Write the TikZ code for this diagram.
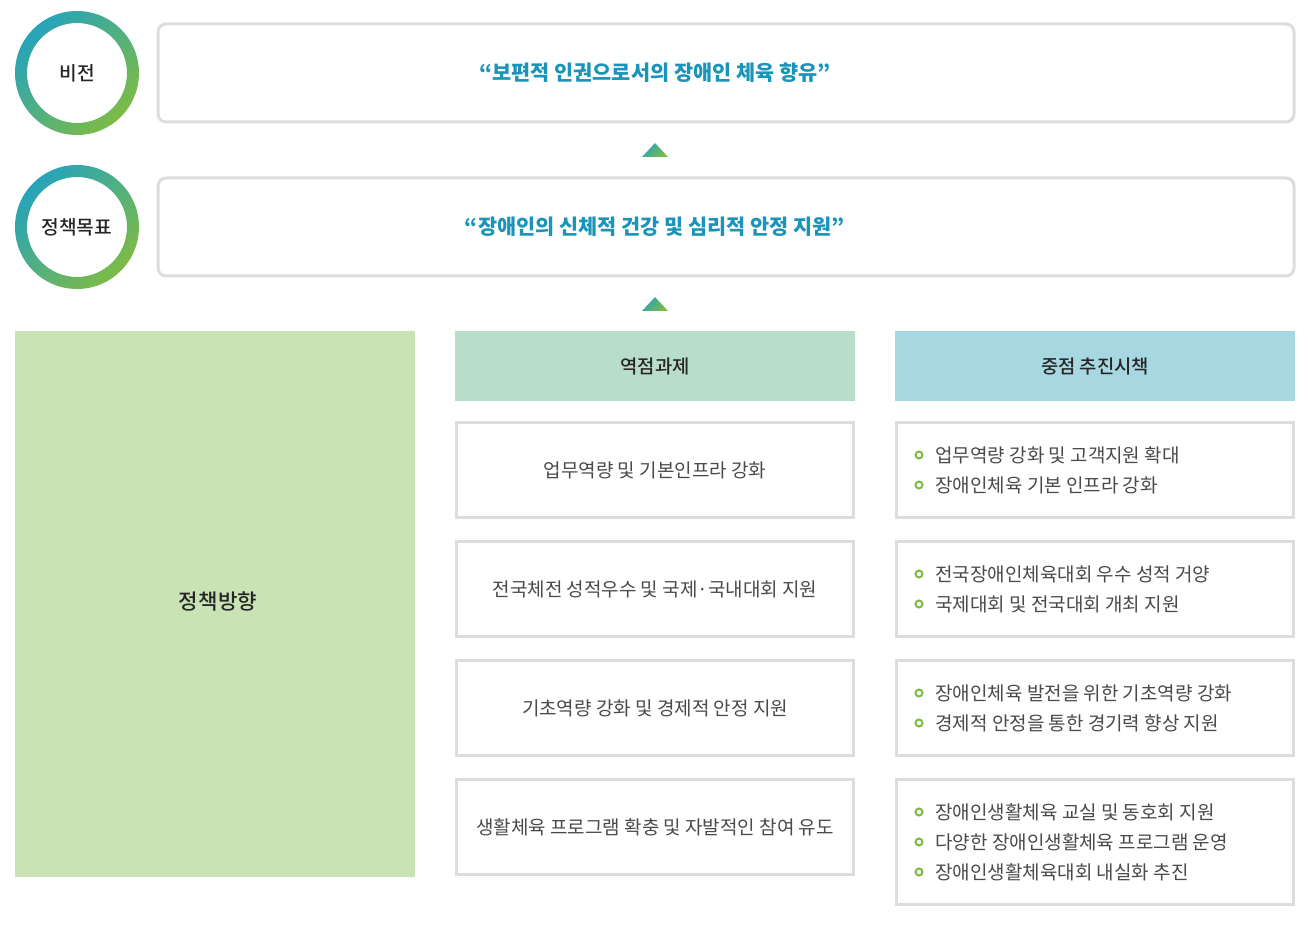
\documentclass[tikz,border=0pt]{standalone}
\usepackage{fontspec}
\setmainfont{Noto Sans CJK KR}
\newfontfamily\krmed{Noto Sans CJK KR Medium}
\usetikzlibrary{positioning}
\definecolor{ringA}{HTML}{26A4BA}
\definecolor{ringB}{HTML}{7DBB45}
\definecolor{titleblue}{HTML}{1A94B8}
\definecolor{boxline}{HTML}{DDDDDD}
\definecolor{bodytext}{HTML}{4A4A4A}
\definecolor{headgreen}{HTML}{B8DDCB}
\definecolor{headblue}{HTML}{A7D8E2}
\definecolor{sidegreen}{HTML}{C9E3B4}
\definecolor{dotgreen}{HTML}{7DBB42}
\tikzset{
	topbox/.style = {draw=boxline, line width=1.5pt, rounded corners=4pt, fill=white,
			minimum width=568pt, minimum height=49pt, inner sep=0pt},
	title/.style = {inner sep=0pt, text=titleblue, font=\fontsize{10.4}{12}\selectfont\bfseries},
	circlabel/.style = {text=black!85, font=\fontsize{9.6}{11}\selectfont\krmed},
	headbox/.style = {minimum width=200pt, minimum height=35pt, inner sep=0pt,
			text=black!85, font=\fontsize{9.4}{11}\selectfont\krmed},
	taskbox/.style = {draw=boxline, line width=1.5pt, fill=white,
			minimum width=198.5pt, minimum height=47.5pt, inner sep=0pt,
			text=bodytext, font=\fontsize{9.5}{11}\selectfont},
	item/.style = {anchor=west, inner sep=0pt, text=bodytext, font=\fontsize{9.5}{11}\selectfont},
	dot/.style = {draw=dotgreen, line width=1pt}
}
\begin{document}
\begin{tikzpicture}[x=0.5pt, y=-0.5pt]
	\useasboundingbox (0,0) rectangle (1308,930);
	% ====== Vision / goal ========
	\coordinate (V) at (77,73);
	\coordinate (G) at (77,227);
	\foreach \c in {V,G} {
		\shade[left color=ringA, right color=ringB, shading angle=45, even odd rule]
			(\c) circle (62) (\c) circle (50);
	}
	\node[circlabel] (vlabel) at (V) {비전};
	\node[circlabel] (glabel) at (G) {정책목표};
	\node[topbox] (vision) at (726,73) {};
	\node[topbox] (goal) at (726,227) {};
	\node[title] (visiontext) at (655,73) {“보편적 인권으로서의 장애인 체육 향유”};
	\node[title] (goaltext) at (655,227) {“장애인의 신체적 건강 및 심리적 안정 지원”};
	% ====== Arrows (triangles) ========
	\foreach \y in {143,297} {
		\shade[left color=ringA, right color=ringB, shading angle=45]
			(642,\y+14) -- (655,\y) -- (668,\y+14) -- cycle;
	}
	% ====== Policy direction ========
	\fill[sidegreen] (15,331) rectangle (415,877);
	\node[font=\fontsize{10.6}{12}\selectfont\krmed, text=black!85] (direction) at (218,601) {정책방향};
	\node[headbox, fill=headgreen] (tasks) at (655,366) {역점과제};
	\node[headbox, fill=headblue] (measures) at (1095,366) {중점 추진시책};
	% ====== Tasks ========
	\node[taskbox] (t1) at (655,470) {업무역량 및 기본인프라 강화};
	\node[taskbox] (t2) at (655,589) {전국체전 성적우수 및 국제·국내대회 지원};
	\node[taskbox] (t3) at (655,708) {기초역량 강화 및 경제적 안정 지원};
	\node[taskbox] (t4) at (655,827) {생활체육 프로그램 확충 및 자발적인 참여 유도};
	% ====== Measures ========
	\node[taskbox] (m1) at (1095,470) {};
	\node[taskbox] (m2) at (1095,589) {};
	\node[taskbox] (m3) at (1095,708) {};
	\node[taskbox, minimum height=62.5pt] (m4) at (1095,842) {};
	\foreach \y/\txt [count=\i] in {
			455/업무역량 강화 및 고객지원 확대,
			485/장애인체육 기본 인프라 강화,
			574/전국장애인체육대회 우수 성적 거양,
			604/국제대회 및 전국대회 개최 지원,
			693/장애인체육 발전을 위한 기초역량 강화,
			723/경제적 안정을 통한 경기력 향상 지원,
			812/장애인생활체육 교실 및 동호회 지원,
			842/다양한 장애인생활체육 프로그램 운영,
			872/장애인생활체육대회 내실화 추진} {
		\draw[dot] (919,\y) circle (3.5);
		\node[item] (item\i) at (935,\y) {\txt};
	}
\end{tikzpicture}
\end{document}
